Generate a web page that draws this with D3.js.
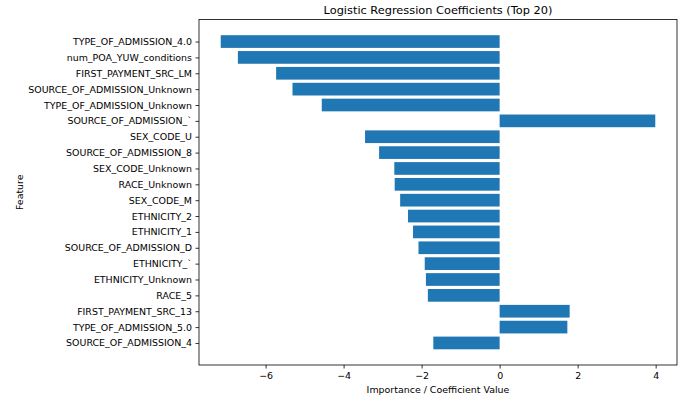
<!DOCTYPE html>
<html><head><meta charset="utf-8">
<script src="https://cdn.jsdelivr.net/npm/d3@7"></script>
<style>body{margin:0;background:#fff}svg{display:block}text{font-family:"DejaVu Sans",sans-serif;fill:#000}</style>
</head><body><svg id="c" width="687" height="401"></svg>
<script>
const features = ["TYPE_OF_ADMISSION_4.0","num_POA_YUW_conditions","FIRST_PAYMENT_SRC_LM","SOURCE_OF_ADMISSION_Unknown","TYPE_OF_ADMISSION_Unknown","SOURCE_OF_ADMISSION_`","SEX_CODE_U","SOURCE_OF_ADMISSION_8","SEX_CODE_Unknown","RACE_Unknown","SEX_CODE_M","ETHNICITY_2","ETHNICITY_1","SOURCE_OF_ADMISSION_D","ETHNICITY_`","ETHNICITY_Unknown","RACE_5","FIRST_PAYMENT_SRC_13","TYPE_OF_ADMISSION_5.0","SOURCE_OF_ADMISSION_4"];
const coefficients = [-7.15,-6.71,-5.73,-5.31,-4.56,3.99,-3.45,-3.09,-2.70,-2.69,-2.55,-2.35,-2.22,-2.08,-1.92,-1.89,-1.84,1.795,1.736,-1.70];
const xTicks = [-6,-4,-2,0,2,4];
const title = "Logistic Regression Coefficients (Top 20)";
const xLabel = "Importance / Coefficient Value";
const yLabel = "Feature";

const L=199, R=677, T=19.5, B=365;
const svg = d3.select("#c");
const xmin = d3.min(coefficients), xmax = d3.max(coefficients);
const xm = (xmax - xmin) * 0.05;
const x = d3.scaleLinear().domain([xmin - xm, xmax + xm]).range([L, R]);
const n = features.length, bh = 0.8;
const ym = ((n - 1 + bh/2) - (-bh/2)) * 0.05;
const y = d3.scaleLinear().domain([-bh/2 - ym, n - 1 + bh/2 + ym]).range([T, B]);

svg.append("g").selectAll("rect").data(coefficients).join("rect")
  .attr("x", d => x(Math.min(0, d)))
  .attr("width", d => Math.abs(x(d) - x(0)))
  .attr("y", (d,i) => y(i - bh/2))
  .attr("height", y(bh) - y(0))
  .attr("fill", "#1f77b4");

const xa = svg.append("g").attr("transform", `translate(0,${B})`)
  .call(d3.axisBottom(x).tickValues(xTicks).tickSize(3.5).tickPadding(3.5).tickFormat(d => d < 0 ? "\u2212" + Math.abs(d) : d));
const ya = svg.append("g").attr("transform", `translate(${L},0)`)
  .call(d3.axisLeft(d3.scaleOrdinal().domain(features).range(features.map((f,i)=>y(i)))).tickSize(3.5).tickPadding(3.5));
[xa, ya].forEach(a => {
  a.select(".domain").remove();
  a.selectAll("text").style("font-family","DejaVu Sans").style("font-size","9.45px").attr("fill","#000");
  a.selectAll("line").attr("stroke","#000").attr("stroke-width",0.8);
});

svg.append("rect").attr("x", L).attr("y", T).attr("width", R - L).attr("height", B - T)
  .attr("fill", "none").attr("stroke", "#000").attr("stroke-width", 0.8);

svg.append("text").attr("x", (L+R)/2).attr("y", 14).attr("text-anchor","middle").style("font-size","11.35px").text(title);
svg.append("text").attr("x", (L+R)/2).attr("y", 393).attr("text-anchor","middle").style("font-size","9.45px").text(xLabel);
svg.append("text").attr("transform", `translate(23,${(T+B)/2}) rotate(-90)`).attr("text-anchor","middle").style("font-size","9.45px").text(yLabel);
</script></body></html>
